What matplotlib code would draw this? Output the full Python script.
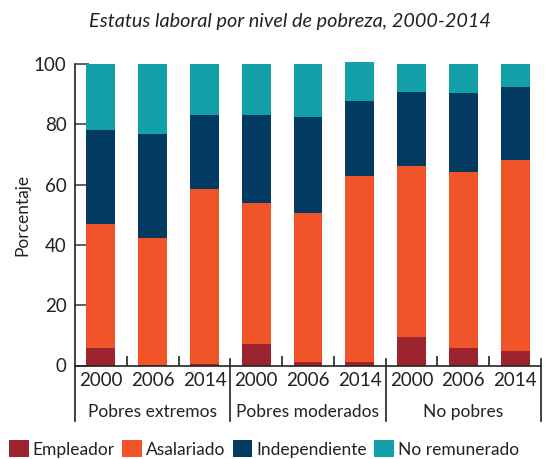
import matplotlib
matplotlib.use("Agg")
import matplotlib.pyplot as plt
from matplotlib.patches import Patch
from matplotlib.lines import Line2D

plt.rcParams['font.family'] = ['Lato', 'DejaVu Sans']

years = ["2000", "2006", "2014"] * 3
groups = ["Pobres extremos", "Pobres moderados", "No pobres"]
series_names = ["Empleador", "Asalariado", "Independiente", "No remunerado"]
colors = ["#9B242E", "#F05428", "#023A62", "#14A0A8"]

empleador = [5.8, 0.2, 0.6, 7.1, 1.1, 1.1, 9.4, 5.8, 4.8]
asalariado = [41.2, 42.1, 58.0, 46.7, 49.4, 61.7, 56.7, 58.3, 63.3]
independiente = [31.1, 34.4, 24.4, 29.2, 31.9, 24.9, 24.6, 26.3, 24.3]
no_remunerado = [21.9, 23.3, 17.0, 17.0, 17.6, 13.1, 9.3, 9.6, 7.6]

series = [empleador, asalariado, independiente, no_remunerado]

W, H = 545, 459
fig = plt.figure(figsize=(W / 100, H / 100), dpi=100)
left, right, top, bottom = 75, 541, 64, 365.5
ax = fig.add_axes([left / W, 1 - bottom / H, (right - left) / W, (bottom - top) / H])

x = list(range(len(years)))
base = [0.0] * len(years)
for vals, col, name in zip(series, colors, series_names):
    ax.bar(x, vals, bottom=base, width=0.56, color=col, label=name, clip_on=False, zorder=2)
    base = [b + v for b, v in zip(base, vals)]

ax.set_xlim(-0.5, 8.5)
ax.set_ylim(0, 100)
for s in ["top", "right", "left"]:
    ax.spines[s].set_visible(False)
ax.spines["bottom"].set_color("#222222")
ax.spines["bottom"].set_linewidth(1.2)
ax.spines["bottom"].set_zorder(3)

fs = 13.5
ax.set_yticks([0, 20, 40, 60, 80, 100])
ax.tick_params(axis="y", direction="in", length=10, width=1.2, color="#444444",
               labelsize=fs, pad=6, labelcolor="#222222")
ax.set_xticks([0.5, 1.5, 3.5, 4.5, 6.5, 7.5])
ax.set_xticklabels([])
ax.tick_params(axis="x", which="major", direction="in", length=7, width=1.2, color="#222222")
ax.set_xticks(x, minor=True)
ax.set_xticklabels(years, minor=True)
ax.tick_params(axis="x", which="minor", length=0, labelsize=fs, pad=5, labelcolor="#222222")

hpx = bottom - top
up = 7 / hpx
down = -(421 - bottom) / hpx
trans = ax.get_xaxis_transform()
ax.add_line(Line2D([-0.5, -0.5], [down, 1.0], transform=trans, color="#222222", lw=1.2, clip_on=False, zorder=3))
for sx in [2.5, 5.5, 8.5]:
    ax.add_line(Line2D([sx, sx], [down, up], transform=trans, color="#222222", lw=1.2, clip_on=False, zorder=3))

for gi, g in enumerate(groups):
    ax.text(gi * 3 + 1, -(412 - bottom) / hpx, g, transform=trans, ha="center", va="center",
            fontsize=12.5, color="#222222")

ax.set_ylabel("Porcentaje", fontsize=12.5, color="#222222")
ax.yaxis.set_label_coords(-(75 - 30) / (right - left), 0.5)

fig.text(290 / W, 1 - 21 / H, "Estatus laboral por nivel de pobreza, 2000-2014", ha="center", va="center",
         fontsize=14.3, style="italic", color="#222222")

handles = [Patch(facecolor=c, edgecolor="none", label=n) for c, n in zip(colors, series_names)]
fig.legend(handles=handles, loc="center", bbox_to_anchor=(264 / W, 1 - 449 / H), ncol=4, frameon=False,
           fontsize=12.5, handlelength=1.12, handleheight=1.12, handletextpad=0.22, columnspacing=0.45,
           labelcolor="#222222", borderpad=0.2)

fig.savefig("out.png", dpi=100)
